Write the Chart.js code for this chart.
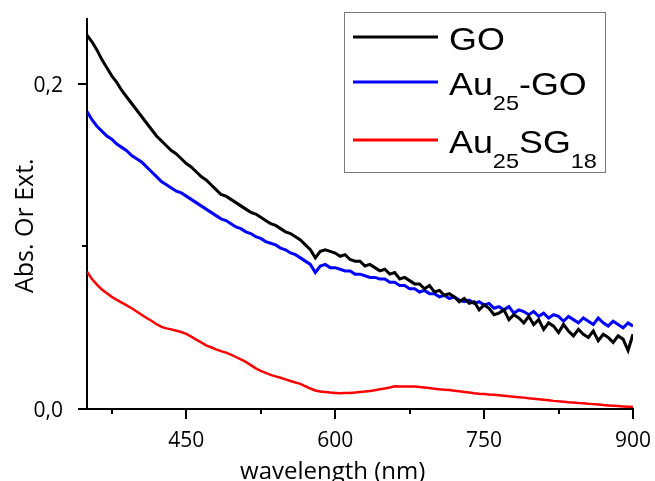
<!DOCTYPE html>
<html>
<head>
<meta charset="utf-8">
<script src="https://cdn.jsdelivr.net/npm/chart.js@4/dist/chart.umd.min.js"></script>
<style>
html,body{margin:0;padding:0;background:#fff;}
#wrap{width:655px;height:481px;}
</style>
</head>
<body>
<div id="wrap"><canvas id="c" width="655" height="481"></canvas></div>
<script>
// ---- data ----
const wavelength = [
 350,355,360,365,370,375,380,385,390,395,
 400,405,410,415,420,425,430,435,440,445,
 450,455,460,465,470,475,480,485,490,495,
 500,505,510,515,520,525,530,535,540,545,
 550,555,560,565,570,575,580,585,590,595,
 600,605,610,615,620,625,630,635,640,645,
 650,655,660,665,670,675,680,685,690,695,
 700,705,710,715,720,725,730,735,740,745,
 750,755,760,765,770,775,780,785,790,795,
 800,805,810,815,820,825,830,835,840,845,
 850,855,860,865,870,875,880,885,890,895,
 900];
const goAbs = [
 .230,.226,.221,.215,.210,.205,.201,.196,.192,.188,
 .184,.180,.176,.172,.168,.165,.162,.159,.157,.154,
 .151,.149,.146,.143,.141,.138,.135,.132,.131,.129,
 .127,.125,.123,.121,.120,.118,.116,.114,.113,.111,
 .109,.108,.106,.104,.101,.098,.093,.097,.098,.097,
 .096,.094,.095,.092,.091,.091,.088,.089,.087,.085,
 .086,.083,.084,.080,.081,.079,.077,.077,.074,.076,
 .072,.073,.070,.071,.069,.066,.068,.065,.066,.061,
 .064,.062,.058,.059,.061,.055,.058,.056,.053,.057,
 .052,.055,.049,.053,.051,.047,.052,.048,.045,.049,
 .046,.044,.048,.042,.046,.044,.041,.045,.043,.036,
 .046];
const auGoAbs = [
 .183,.178,.174,.171,.168,.166,.163,.161,.159,.156,
 .154,.152,.149,.146,.143,.140,.138,.136,.134,.133,
 .131,.129,.127,.125,.123,.121,.119,.117,.116,.114,
 .112,.111,.109,.108,.106,.105,.103,.102,.101,.099,
 .098,.096,.095,.093,.091,.089,.084,.088,.089,.087,
 .087,.086,.085,.085,.083,.083,.082,.081,.081,.080,
 .080,.078,.078,.076,.076,.074,.074,.072,.073,.071,
 .071,.069,.070,.068,.069,.067,.066,.067,.065,.066,
 .064,.065,.062,.063,.061,.063,.059,.061,.060,.058,
 .060,.057,.059,.056,.058,.057,.054,.057,.055,.053,
 .056,.054,.052,.056,.053,.051,.054,.052,.050,.053,
 .051];
const auSgAbs = [
 .0845,.0800,.0765,.0735,.0712,.0690,.0672,.0655,.0638,.0620,
 .0600,.0580,.0560,.0543,.0522,.0505,.0496,.0490,.0482,.0474,
 .0462,.0445,.0427,.0410,.0392,.0380,.0367,.0356,.0347,.0335,
 .0320,.0305,.0290,.0270,.0250,.0235,.0222,.0210,.0201,.0192,
 .0182,.0172,.0163,.0155,.0140,.0126,.0114,.0108,.0104,.0101,
 .0099,.0097,.0098,.0099,.0101,.0104,.0107,.0111,.0116,.0121,
 .0126,.0132,.0140,.0138,.0138,.0138,.0138,.0136,.0133,.0129,
 .0125,.0121,.0119,.0117,.0113,.0109,.0105,.0101,.0097,.0094,
 .0092,.0089,.0087,.0084,.0081,.0078,.0076,.0073,.0070,.0066,
 .0063,.0060,.0057,.0054,.0050,.0047,.0045,.0042,.0040,.0037,
 .0035,.0032,.0030,.0027,.0024,.0022,.0020,.0018,.0016,.0014,
 .0012];
const seriesNames = ['GO', 'Au25-GO', 'Au25SG18'];
// legend text pieces: [text, isSubscript]
const legendParts = [
 [['GO',0]],
 [['Au',0],['25',1],['-GO',0]],
 [['Au',0],['25',1],['SG',0],['18',1]]
];
const seriesColors = ['#000000', '#0000ff', '#ff0000'];
const xTickValues = [450, 600, 750, 900];
const xTickLabels = ['450', '600', '750', '900'];
const xMinorValues = [375, 525, 675, 825];
const yTickValues = [0, 0.2];
const yTickLabels = ['0,0', '0,2'];
const yMinorValues = [0.1];
const xTitle = 'wavelength (nm)';
const yTitle = 'Abs. Or Ext.';

const toPts = arr => wavelength.map((w, i) => ({x: w, y: arr[i]}));

const decor = {
  id: 'decor',
  afterDraw(chart) {
    const {ctx, chartArea: ca, scales: {x, y}} = chart;
    ctx.save();
    // tick marks
    ctx.strokeStyle = '#000';
    ctx.lineWidth = 2;
    ctx.beginPath();
    xTickValues.forEach(v => { const p = Math.round(x.getPixelForValue(v)); ctx.moveTo(p, ca.bottom); ctx.lineTo(p, ca.bottom + 10); });
    xMinorValues.forEach(v => { const p = Math.round(x.getPixelForValue(v)); ctx.moveTo(p, ca.bottom); ctx.lineTo(p, ca.bottom + 5); });
    yTickValues.forEach(v => { const p = Math.round(y.getPixelForValue(v)); ctx.moveTo(ca.left - 9, p); ctx.lineTo(ca.left, p); });
    yMinorValues.forEach(v => { const p = Math.round(y.getPixelForValue(v)); ctx.moveTo(ca.left - 5, p); ctx.lineTo(ca.left, p); });
    ctx.stroke();
    // axis titles
    ctx.fillStyle = '#000';
    ctx.font = '24px "Open Sans"';
    ctx.textAlign = 'center';
    ctx.textBaseline = 'alphabetic';
    ctx.fillText(xTitle, ca.left + (ca.right - ca.left) * 0.45, 479);
    ctx.save();
    ctx.translate(33, ca.top + (ca.bottom - ca.top) * 0.53);
    ctx.rotate(-Math.PI / 2);
    ctx.font = '25px "Open Sans"';
    ctx.fillText(yTitle, 0, 0);
    ctx.restore();
    // legend
    const bx = 344.5, by = 12.5, bw = 261, bh = 160;
    ctx.fillStyle = '#fff';
    ctx.fillRect(bx, by, bw, bh);
    ctx.strokeStyle = '#7a7a7a';
    ctx.lineWidth = 1;
    ctx.strokeRect(bx, by, bw, bh);
    const rowY = [37, 82, 140];
    ctx.textAlign = 'left';
    legendParts.forEach((parts, r) => {
      ctx.strokeStyle = seriesColors[r];
      ctx.lineWidth = 3;
      ctx.beginPath();
      ctx.moveTo(353, rowY[r]);
      ctx.lineTo(438, rowY[r]);
      ctx.stroke();
      ctx.save();
      ctx.translate(449, rowY[r] + 12.5);
      ctx.scale(1.12, 1);
      ctx.fillStyle = '#000';
      let cx = 0;
      parts.forEach(([t, sub]) => {
        ctx.font = sub ? '21px "Liberation Sans"' : '32px "Liberation Sans"';
        ctx.fillText(t, cx, sub ? 15 : 0);
        cx += ctx.measureText(t).width;
      });
      ctx.restore();
    });
    ctx.restore();
  }
};

new Chart(document.getElementById('c'), {
  type: 'line',
  data: {
    datasets: [
      {label: seriesNames[0], data: toPts(goAbs), borderColor: seriesColors[0], borderWidth: 3, pointRadius: 0, tension: 0},
      {label: seriesNames[1], data: toPts(auGoAbs), borderColor: seriesColors[1], borderWidth: 3, pointRadius: 0, tension: 0},
      {label: seriesNames[2], data: toPts(auSgAbs), borderColor: seriesColors[2], borderWidth: 2.5, pointRadius: 0, tension: 0}
    ]
  },
  options: {
    responsive: false,
    animation: false,
    devicePixelRatio: 1,
    layout: {padding: {top: 19, right: 22, left: 0, bottom: 0}},
    plugins: {legend: {display: false}, tooltip: {enabled: false}},
    scales: {
      x: {
        type: 'linear', min: 350, max: 900,
        afterBuildTicks: s => { s.ticks = xTickValues.map(v => ({value: v})); },
        afterFit: s => { s.height = 72; s.paddingLeft = 0; s.paddingRight = 0; },
        grid: {display: false},
        border: {display: true, color: '#000', width: 2},
        ticks: {padding: 11, color: '#000', font: {family: 'Open Sans', size: 21}, maxRotation: 0,
                callback: (v, i) => xTickLabels[i]}
      },
      y: {
        min: 0, max: 0.24,
        afterBuildTicks: s => { s.ticks = yTickValues.map(v => ({value: v})); },
        afterFit: s => { s.width = 87; s.paddingTop = 0; s.paddingBottom = 0; },
        grid: {display: false},
        border: {display: true, color: '#000', width: 2},
        ticks: {padding: 16, labelOffset: 2, color: '#000', font: {family: 'Open Sans', size: 21},
                callback: (v, i) => yTickLabels[i]}
      }
    }
  },
  plugins: [decor]
});
</script>
</body>
</html>
